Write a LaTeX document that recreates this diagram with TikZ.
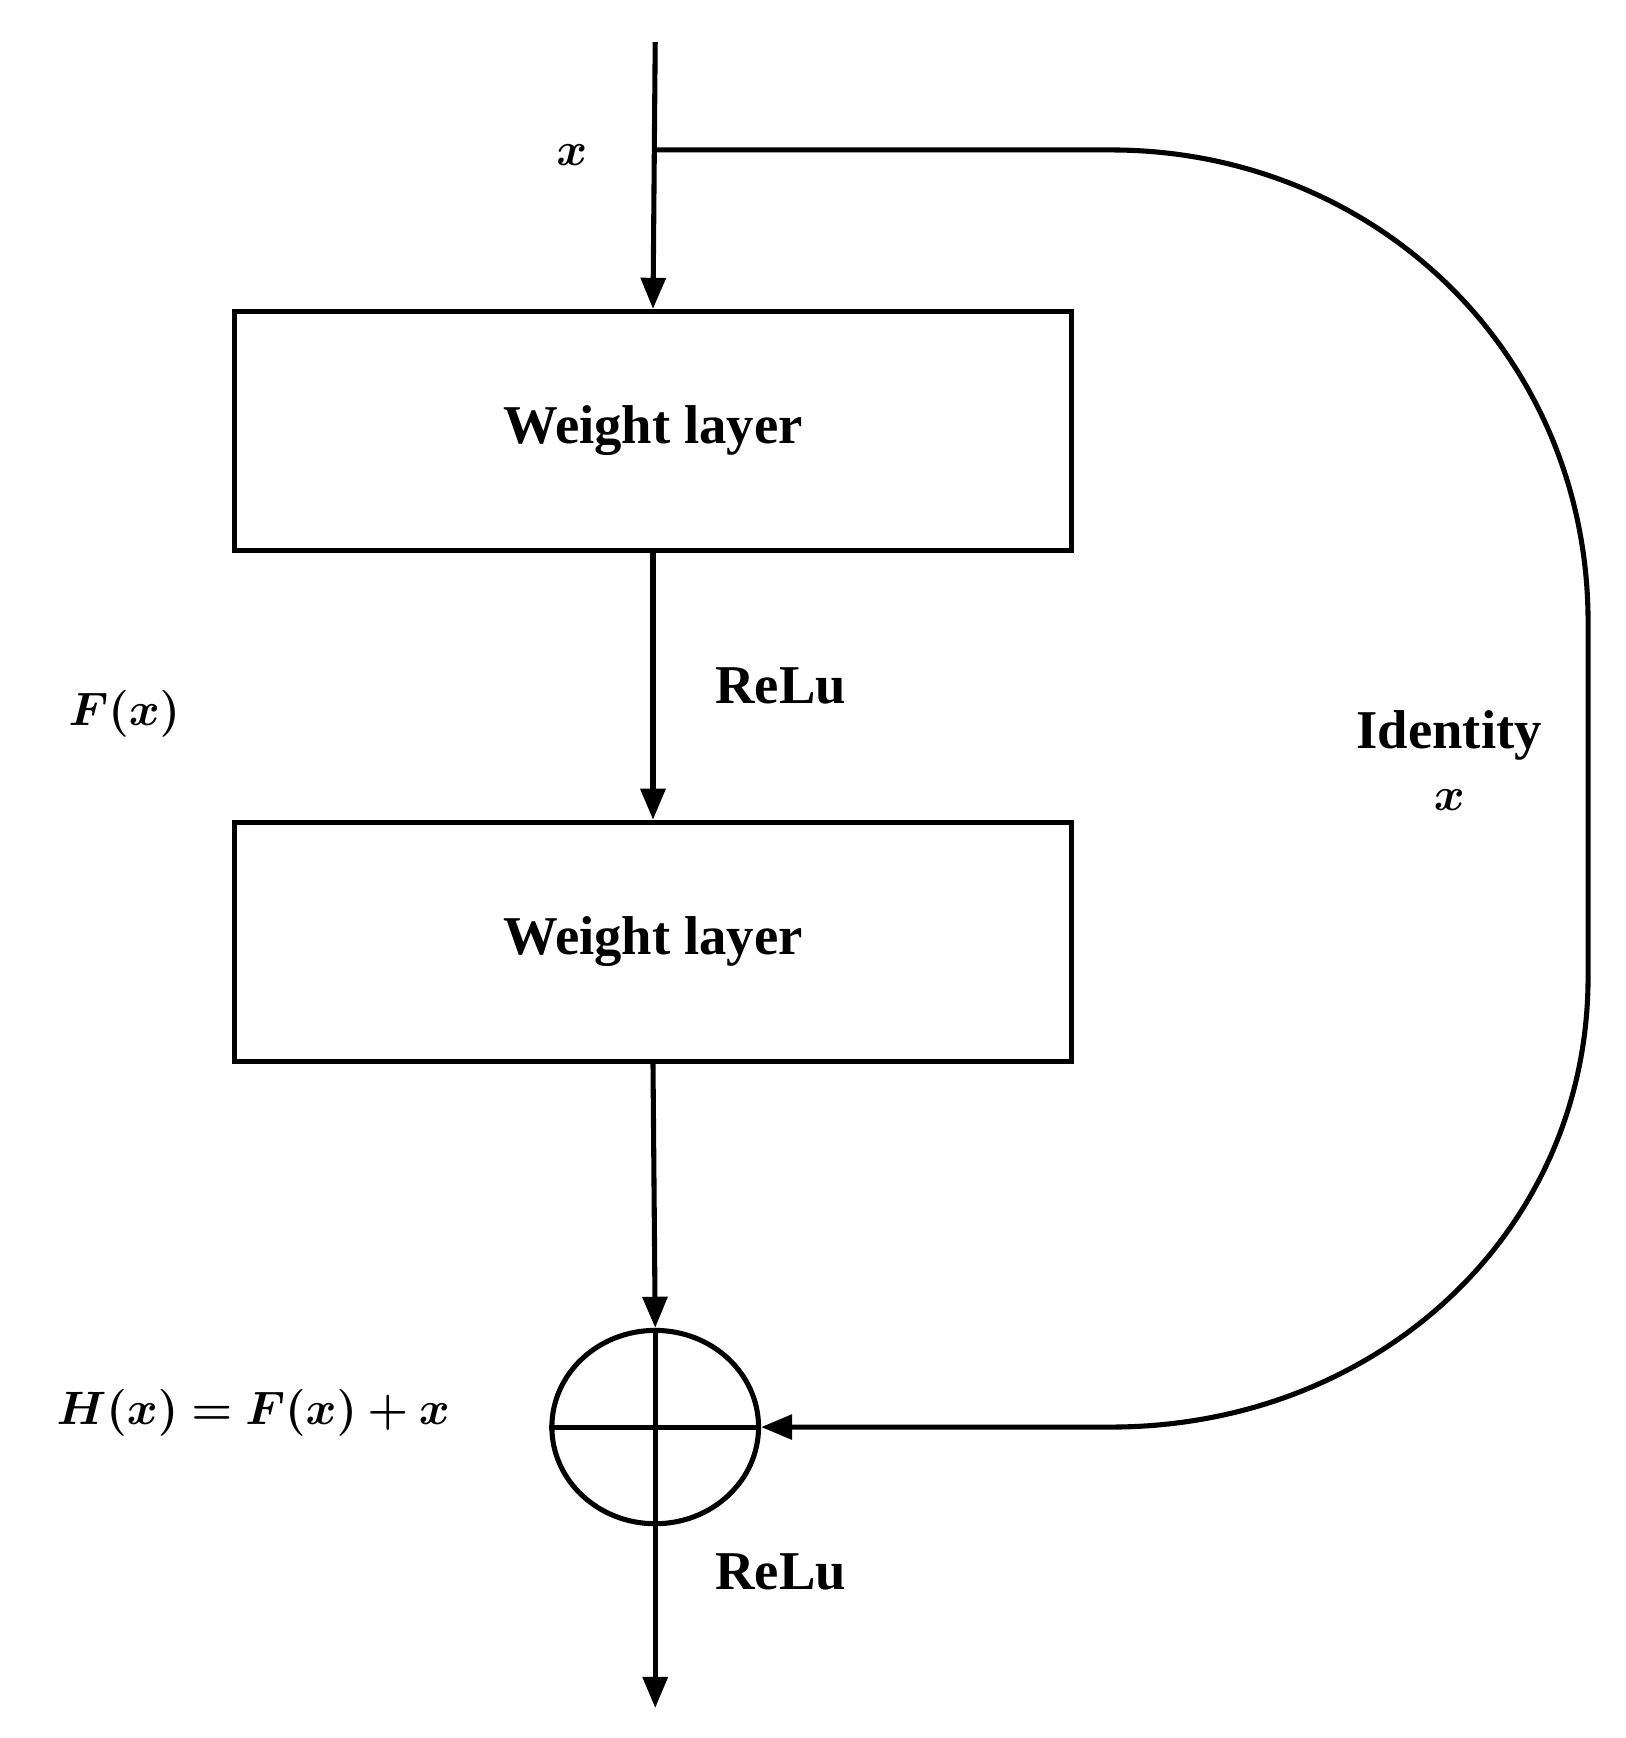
\documentclass[tikz,border=0pt]{standalone}
\usepackage{fontspec}
\usepackage{amsmath,bm}
\setmainfont{Liberation Serif}
\usetikzlibrary{arrows.meta,shapes.geometric}
\begin{document}
\begin{tikzpicture}[x=0.01cm,y=-0.01cm,line width=1.3pt,
  arr/.style={-{Triangle[length=0.28cm,width=0.22cm]}},
  box/.style={draw,minimum width=7.53cm,minimum height=2.15cm,inner sep=0pt},
  lbl/.style={font=\fontsize{14}{16}\selectfont\bfseries},
  mth/.style={font=\fontsize{12.5}{15}\selectfont}]
\useasboundingbox (0,0) rectangle (1464,1565);
\coordinate (top) at (590,38);
\coordinate (br) at (590,135);
\node[box] (b1) at (588,388) {};
\node[lbl] at (588,388) {Weight layer};
\node[box] (b2) at (588,848) {};
\node[lbl] at (588,848) {Weight layer};
\node[draw,ellipse,minimum width=1.86cm,minimum height=1.74cm,inner sep=0pt] (c) at (590,1285) {};
\draw (c.north) -- (c.south) (c.west) -- (c.east);
\coordinate (out) at (590,1538);
\draw[arr] (top) -- (b1.north);
\draw[arr] (b1.south) -- (b2.north);
\draw[arr] (b2.south) -- (c.north);
\draw[arr] (c.south) -- (out);
\draw[arr] (br) -- (1000,135) .. controls (1240,135) and (1430,320) .. (1430,560)
  -- (1430,880) .. controls (1430,1110) and (1240,1285) .. (1000,1285) -- (c.east);
\node[mth] at (515,140) {$\bm{x}$};
\node[lbl] at (703,618) {ReLu};
\node[lbl] at (703,1415) {ReLu};
\node[mth] at (112,643) {$\bm{F(x)}$};
\node[lbl] at (1305,662) {Identity};
\node[mth] at (1305,720) {$\bm{x}$};
\node[mth] at (228,1272) {$\bm{H(x)=F(x)+x}$};
\end{tikzpicture}
\end{document}
